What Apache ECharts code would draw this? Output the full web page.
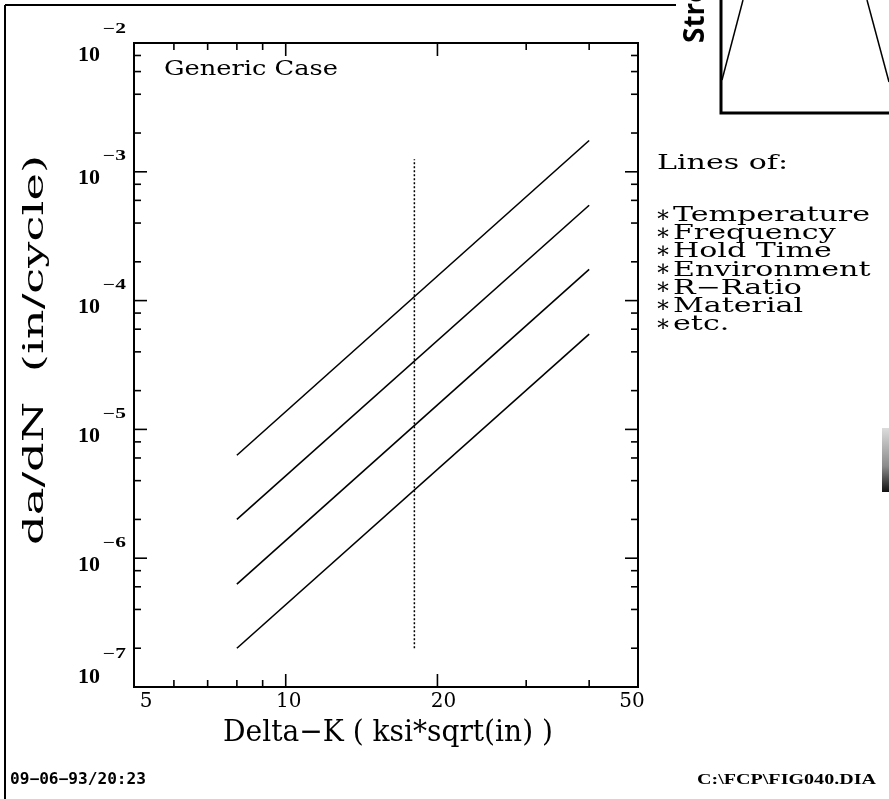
<!DOCTYPE html>
<html>
<head>
<meta charset="utf-8">
<script src="https://cdn.jsdelivr.net/npm/echarts@6/dist/echarts.min.js"></script>
<style>
  html, body { margin: 0; padding: 0; background: #fff; }
  #chart { width: 889px; height: 799px; }
</style>
</head>
<body>
<div id="chart"></div>
<script>
// Fatigue crack growth: da/dN against Delta-K on log-log axes
const deltaKEnds = [8, 40];
const rateLine1 = [6.3e-6, 1.75e-3];
const rateLine2 = [2.0e-6, 5.5e-4];
const rateLine3 = [6.3e-7, 1.75e-4];
const rateLine4 = [2.0e-7, 5.5e-5];
const cutoffK = 18;
const cutoffSpan = [2.0e-7, 1.25e-3];

const xRange = [5, 50];
const yRange = [1e-7, 1e-2];
const xTickLabels = [5, 10, 20, 50];
const xMajorTicks = [10, 20];
const xMinorTicks = [6, 7, 8, 9, 30, 40];
const yExponents = [-2, -3, -4, -5, -6, -7];
const yMinorFactors = [2, 4, 6, 8];

const legendTitle = 'Lines of:';
const legendItems = ['Temperature', 'Frequency', 'Hold Time', 'Environment', 'R\u2212Ratio', 'Material', 'etc.'];

const chart = echarts.init(document.getElementById('chart'), null, { renderer: 'canvas' });

// tick marks drawn inside the frame on all four sides
const MAJOR = 13, MINOR = 7;
const yMajorTicks = yExponents.map(e => Math.pow(10, e));
const yMinorTicks = [];
yExponents.forEach(e => {
  if (e < -2) yMinorFactors.forEach(f => yMinorTicks.push(f * Math.pow(10, e)));
});
const tickData = [];
xMajorTicks.forEach(v => tickData.push([v, yRange[0], 0, -MAJOR], [v, yRange[1], 0, MAJOR]));
xMinorTicks.forEach(v => tickData.push([v, yRange[0], 0, -MINOR], [v, yRange[1], 0, MINOR]));
yMajorTicks.filter(v => v > yRange[0] && v < yRange[1])
  .forEach(v => tickData.push([xRange[0], v, MAJOR, 0], [xRange[1], v, -MAJOR, 0]));
yMinorTicks.forEach(v => tickData.push([xRange[0], v, MINOR, 0], [xRange[1], v, -MINOR, 0]));

function rateSeries(vals) {
  return {
    type: 'line',
    data: deltaKEnds.map((k, i) => [k, vals[i]]),
    symbol: 'none',
    silent: true,
    lineStyle: { color: '#000', width: 1.6 }
  };
}

chart.setOption({
  animation: false,
  backgroundColor: '#fff',
  grid: {
    left: 134, top: 43, width: 504, height: 644,
    show: true, borderColor: '#000', borderWidth: 2, backgroundColor: 'transparent'
  },
  xAxis: {
    type: 'log', logBase: 10, min: xRange[0], max: xRange[1],
    axisLine: { show: false }, axisTick: { show: false },
    axisLabel: { show: false }, splitLine: { show: false }
  },
  yAxis: {
    type: 'log', logBase: 10, min: yRange[0], max: yRange[1],
    axisLine: { show: false }, axisTick: { show: false },
    axisLabel: { show: false }, splitLine: { show: false }
  },
  series: [
    rateSeries(rateLine1),
    rateSeries(rateLine2),
    rateSeries(rateLine3),
    rateSeries(rateLine4),
    {
      type: 'line',
      data: [[cutoffK, cutoffSpan[0]], [cutoffK, cutoffSpan[1]]],
      symbol: 'none',
      silent: true,
      lineStyle: { color: '#000', width: 1.5, type: [2, 2] }
    },
    {
      type: 'custom',
      silent: true,
      clip: false,
      data: tickData,
      encode: { x: 0, y: 1 },
      renderItem: (params, api) => {
        const p = api.coord([api.value(0), api.value(1)]);
        return {
          type: 'line',
          shape: { x1: p[0], y1: p[1], x2: p[0] + api.value(2), y2: p[1] + api.value(3) },
          style: { stroke: '#000', lineWidth: 1.6 }
        };
      }
    }
  ]
});

// text helpers
const measureCtx = document.createElement('canvas').getContext('2d');
function widthOf(text, font) {
  measureCtx.font = font;
  return measureCtx.measureText(text).width;
}
function label(text, x, y, font, opt) {
  opt = opt || {};
  const align = opt.align || 'left';
  let sx = 1;
  if (opt.width) sx = opt.width / widthOf(text, font);
  return {
    type: 'text', x: x, y: y, silent: true,
    rotation: opt.rotation || 0,
    scaleX: sx, scaleY: opt.scaleY || 1,
    style: {
      text: text, font: font, fill: '#000',
      align: align, verticalAlign: 'middle',
      textAlign: align, textVerticalAlign: 'middle'
    }
  };
}
const toPx = (x, y) => chart.convertToPixel({ xAxisIndex: 0, yAxisIndex: 0 }, [x, y]);

const serif = '"DejaVu Serif", "Liberation Serif", serif';
const els = [];

// y tick labels: 10 with exponent
const yNudge = { '-2': [12, -14], '-7': [-10, -33] };
yExponents.forEach(e => {
  const ty = toPx(xRange[0], Math.pow(10, e))[1];
  const n = yNudge[String(e)] || [7, -15];
  els.push(label('10', 100, ty + n[0], 'bold 22px "Liberation Serif", serif', { align: 'right' }));
  els.push(label('\u2212' + Math.abs(e), 103, ty + n[1], 'bold 14px "Liberation Serif", serif', { width: 23 }));
});

// x tick labels
const xNudge = { 5: 12, 10: 3, 20: 6, 50: -6 };
xTickLabels.forEach(v => {
  const p = toPx(v, yRange[0]);
  els.push(label(String(v), p[0] + (xNudge[v] || 0), p[1] + 15, '20px ' + serif, { align: 'center' }));
});

// axis titles
els.push(label('Delta\u2212K ( ksi*sqrt(in) )', 388, 733, '30px ' + serif, { align: 'center', width: 330 }));
els.push(label('da/dN  (in/cycle)', 36, 350, '28px ' + serif, { align: 'center', width: 390, rotation: Math.PI / 2 }));

// annotation inside the plot
els.push(label('Generic Case', 164, 70, '21px ' + serif, { width: 174 }));

// side list
const listFont = '20px ' + serif;
const listScale = 197 / widthOf('Temperature', listFont);
els.push(label(legendTitle, 657, 164, listFont, { width: widthOf(legendTitle, listFont) * listScale }));
legendItems.forEach((t, i) => {
  const y = 216 + 18.1 * i;
  els.push(label('\u2217', 663, y, '23px ' + serif, { align: 'center' }));
  els.push(label(t, 673, y, listFont, { width: widthOf(t, listFont) * listScale }));
});

// footer
els.push(label('09\u221206\u221293/20:23', 10, 780, 'bold 15px "DejaVu Sans Mono", monospace', { width: 136 }));
els.push(label('C:\\FCP\\FIG040.DIA', 697, 780, 'bold 15px "Liberation Serif", serif', { width: 179 }));

// page border
els.push({ type: 'line', silent: true, shape: { x1: 5, y1: 5, x2: 676, y2: 5 }, style: { stroke: '#000', lineWidth: 2 } });
els.push({ type: 'line', silent: true, shape: { x1: 5, y1: 5, x2: 5, y2: 799 }, style: { stroke: '#000', lineWidth: 2 } });

// neighbouring figure at the top right
els.push(label('Stre', 696, 43, 'bold 28px "Open Sans", "Noto Sans", sans-serif', { rotation: Math.PI / 2 }));
els.push({ type: 'polyline', silent: true, shape: { points: [[721, 0], [721, 113], [889, 113]] }, style: { stroke: '#000', lineWidth: 3, fill: null } });
els.push({ type: 'line', silent: true, shape: { x1: 722, y1: 80, x2: 743, y2: 0 }, style: { stroke: '#000', lineWidth: 1.5 } });
els.push({ type: 'line', silent: true, shape: { x1: 867, y1: 0, x2: 889, y2: 82 }, style: { stroke: '#000', lineWidth: 1.5 } });
els.push({
  type: 'rect', silent: true, shape: { x: 882, y: 428, width: 7, height: 64 },
  style: {
    fill: new echarts.graphic.LinearGradient(0, 0, 0, 1, [
      { offset: 0, color: '#dcdcdc' }, { offset: 0.6, color: '#8a8a8a' }, { offset: 1, color: '#111' }
    ])
  }
});

chart.setOption({ graphic: { elements: els } });
</script>
</body>
</html>
